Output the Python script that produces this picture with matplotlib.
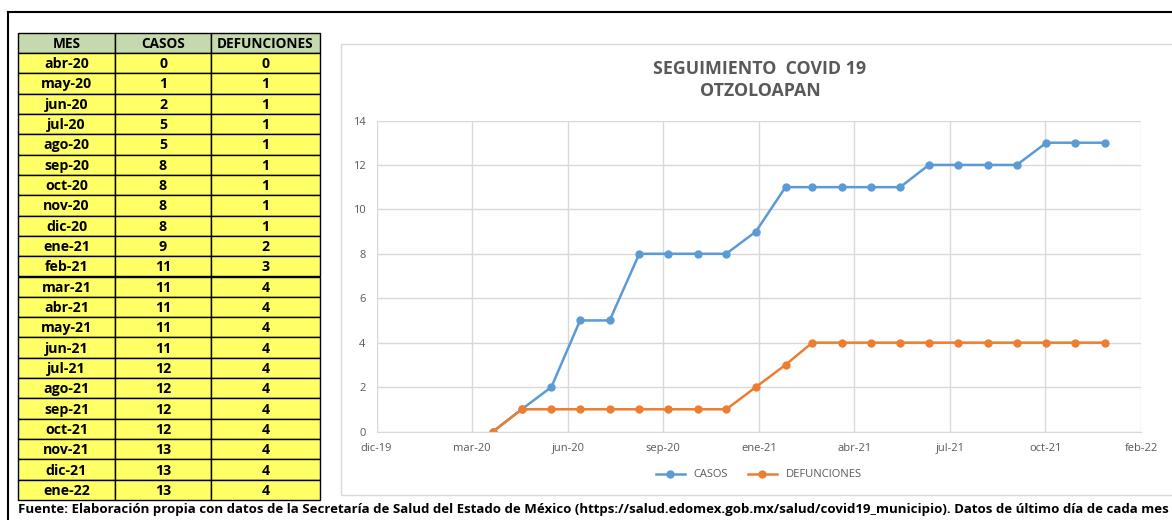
from __future__ import annotations

import datetime as dt

import matplotlib
import matplotlib.dates as mdates
import numpy as np

matplotlib.use("Agg")
import matplotlib.pyplot as plt
from matplotlib.patches import Rectangle

meses = [
    "abr-20", "may-20", "jun-20", "jul-20", "ago-20", "sep-20", "oct-20", "nov-20",
    "dic-20", "ene-21", "feb-21", "mar-21", "abr-21", "may-21", "jun-21", "jul-21",
    "ago-21", "sep-21", "oct-21", "nov-21", "dic-21", "ene-22",
]
casos = [0, 1, 2, 5, 5, 8, 8, 8, 8, 9, 11, 11, 11, 11, 11, 12, 12, 12, 12, 13, 13, 13]
defunciones = [0, 1, 1, 1, 1, 1, 1, 1, 1, 2, 3, 4, 4, 4, 4, 4, 4, 4, 4, 4, 4, 4]
columnas = ["MES", "CASOS", "DEFUNCIONES"]
abrev = ["ene", "feb", "mar", "abr", "may", "jun", "jul", "ago", "sep", "oct", "nov", "dic"]

titulo = "SEGUIMIENTO  COVID 19\nOTZOLOAPAN"
fuente = ("Fuente: Elaboración propia con datos de la Secretaría de Salud del Estado de México "
          "(https://salud.edomex.gob.mx/salud/covid19_municipio). Datos de último día de cada mes")

W, H = 1172, 520
BLUE = "#5B9BD5"
ORANGE = "#ED7D31"
GRAY_TXT = "#595959"
FONT = "Open Sans"


def mes_a_fecha(label: str) -> dt.date:
    m, y = label.split("-")
    return dt.date(2000 + int(y), abrev.index(m) + 1, 1)


fechas = [mes_a_fecha(m) for m in meses]

fig = plt.figure(figsize=(W / 100, H / 100), dpi=100)
fig.patch.set_facecolor("white")

# base layer in pixel coordinates
base = fig.add_axes([0, 0, 1, 1])
base.set_xlim(0, W)
base.set_ylim(H, 0)
base.axis("off")

# outer black frame
base.plot([8, W], [12, 12], color="black", lw=1.5)
base.plot([8, 8], [12, H], color="black", lw=1.5)

# chart area frame
base.add_patch(Rectangle((341, 44), W - 341 + 5, 451, facecolor="white", edgecolor="#D9D9D9", lw=1.0))

# table
col_x = [18, 115, 211, 320]
y0, head_h = 33, 20
row_h = (500 - 53) / len(meses)
for j, name in enumerate(columnas):
    base.add_patch(Rectangle((col_x[j], y0), col_x[j + 1] - col_x[j], head_h,
                             facecolor="#C4D9AE", edgecolor="black", lw=1.0))
    base.text((col_x[j] + col_x[j + 1]) / 2, y0 + head_h / 2 + 1, name, ha="center", va="center",
              fontsize=9.8, fontweight="bold", family=FONT, color="black")
for i, (m, c, d) in enumerate(zip(meses, casos, defunciones)):
    top = y0 + head_h + i * row_h
    for j, val in enumerate([m, str(c), str(d)]):
        base.add_patch(Rectangle((col_x[j], top), col_x[j + 1] - col_x[j], row_h,
                                 facecolor="#FFFF66", edgecolor="black", lw=1.0))
        base.text((col_x[j] + col_x[j + 1]) / 2, top + row_h / 2 + 1, val, ha="center", va="center",
                  fontsize=10.2, fontweight="bold", family=FONT, color="black")

# title and footer
base.text(760, 80, titulo, ha="center", va="center", fontsize=12.8, fontweight="bold",
          family=FONT, color=GRAY_TXT, linespacing=1.35)
base.text(18, 510, fuente, ha="left", va="center", fontsize=9.55, fontweight="bold",
          family=FONT, color="black")

# line chart
x0_px, x1_px = 376.5, 1141
y_top, y_bot = 120.5, 431.5
ax = fig.add_axes([x0_px / W, 1 - y_bot / H, (x1_px - x0_px) / W, (y_bot - y_top) / H])
ax.set_facecolor("white")

start = dt.date(2019, 12, 1)
ticks = [start + dt.timedelta(days=100 * k) for k in range(9)]
ax.set_xlim(mdates.date2num(ticks[0]), mdates.date2num(ticks[-1]))
ax.set_ylim(0, 14)
ax.set_xticks(mdates.date2num(ticks))
ax.set_xticklabels([f"{abrev[t.month - 1]}-{t.year % 100:02d}" for t in ticks])
ax.set_yticks(np.arange(0, 15, 2))

ax.plot(mdates.date2num(fechas), casos, color=BLUE, lw=1.8, marker="o", markersize=5, label="CASOS")
ax.plot(mdates.date2num(fechas), defunciones, color=ORANGE, lw=1.8, marker="o", markersize=5,
        label="DEFUNCIONES")

ax.grid(True, color="#D9D9D9", lw=1.0)
ax.set_axisbelow(True)
for side in ["top", "right", "left"]:
    ax.spines[side].set_visible(False)
ax.spines["bottom"].set_color("#D9D9D9")
ax.tick_params(length=0, labelsize=8, labelcolor=GRAY_TXT, pad=8)
for lab in ax.get_xticklabels() + ax.get_yticklabels():
    lab.set_family(FONT)

leg = ax.legend(loc="upper center", bbox_to_anchor=(0.5, -0.09), ncol=2, frameon=False,
                prop={"family": FONT, "size": 8}, handlelength=2.6, columnspacing=1.8)
for t in leg.get_texts():
    t.set_color(GRAY_TXT)

fig.savefig("out.png", dpi=100)
